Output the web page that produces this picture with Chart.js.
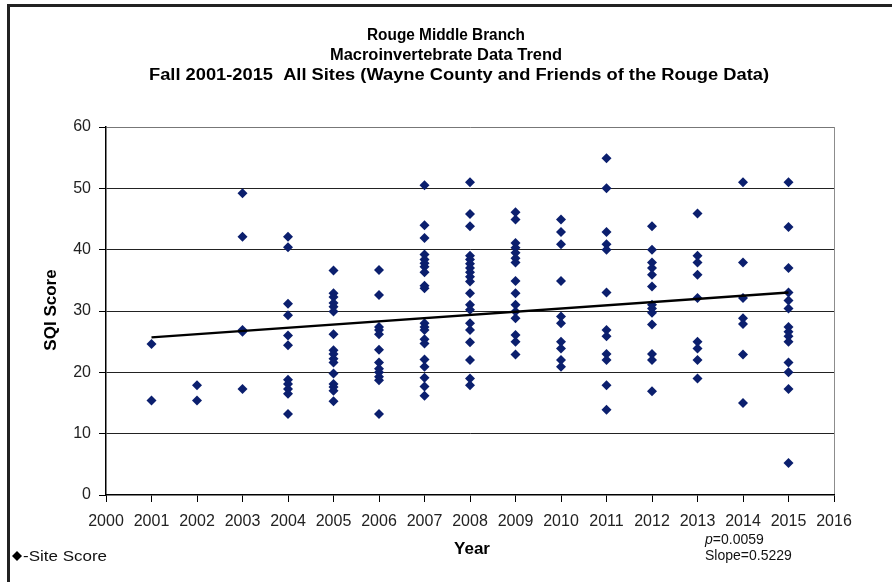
<!DOCTYPE html>
<html>
<head>
<meta charset="utf-8">
<script src="https://cdn.jsdelivr.net/npm/chart.js@4/dist/chart.umd.min.js"></script>
<style>
  html, body { margin: 0; padding: 0; background: #fff; }
  #wrap { width: 892px; height: 582px; position: relative; }
</style>
</head>
<body>
<div id="wrap"><canvas id="chart" width="892" height="582"></canvas></div>
<script>
// years sampled and the SQI scores read for every site that year
const years = [2001, 2002, 2003, 2004, 2005, 2006, 2007, 2008, 2009, 2010, 2011, 2012, 2013, 2014, 2015];
const siteScores = [
  [24.6, 15.4],
  [17.9, 15.4],
  [49.2, 42.1, 26.9, 26.6, 17.3],
  [42.1, 40.4, 31.2, 29.3, 26.0, 24.4, 18.8, 18.1, 17.3, 16.5, 13.2],
  [36.6, 32.9, 32.3, 31.3, 30.7, 29.9, 26.2, 23.6, 23.0, 22.2, 21.6, 19.8, 18.1, 17.6, 17.0, 15.3],
  [36.7, 32.6, 27.4, 26.9, 26.2, 23.7, 21.6, 20.6, 20.0, 19.3, 18.7, 13.2],
  [50.5, 44.0, 41.9, 39.2, 38.4, 37.8, 37.2, 36.3, 34.1, 33.7, 28.0, 27.4, 26.9, 25.4, 24.7, 22.1, 20.9, 19.1, 17.7, 16.2],
  [51.0, 45.8, 43.8, 39.0, 38.4, 37.7, 37.0, 36.3, 35.6, 34.8, 32.9, 31.0, 30.2, 28.0, 26.9, 24.9, 22.0, 19.0, 17.9],
  [46.1, 44.9, 41.1, 40.3, 39.5, 38.6, 37.9, 34.9, 32.9, 31.0, 29.9, 28.8, 26.1, 25.0, 22.9],
  [44.9, 42.9, 40.9, 34.9, 29.1, 28.0, 25.0, 23.9, 22.0, 20.9],
  [54.9, 50.0, 42.9, 40.9, 40.0, 33.0, 26.9, 25.9, 23.0, 22.0, 17.9, 13.9],
  [43.8, 40.0, 37.9, 37.0, 35.9, 34.0, 31.0, 30.4, 29.7, 27.8, 23.0, 22.0, 16.9],
  [45.9, 39.0, 37.9, 35.9, 32.1, 25.0, 23.9, 22.0, 19.0],
  [51.0, 37.9, 32.1, 28.8, 27.9, 22.9, 15.0],
  [51.0, 43.7, 37.0, 33.0, 31.7, 30.4, 27.4, 26.6, 25.9, 25.0, 21.6, 20.0, 17.3, 5.2]
];
// linear trend end points
const trendYears = [2001, 2015];
const trendScores = [25.7, 33.0];

const titleLines = [
  'Rouge Middle Branch',
  'Macroinvertebrate Data Trend',
  'Fall 2001-2015  All Sites (Wayne County and Friends of the Rouge Data)'
];

const points = [];
years.forEach((yr, i) => siteScores[i].forEach(s => points.push({x: yr, y: s})));
const trend = trendYears.map((yr, i) => ({x: yr, y: trendScores[i]}));

const markerColor = '#0b1f6e';
const FONT = '"Liberation Sans", Arial, sans-serif';

// draw text from left edge x, squeezed/stretched to the given width
function fitText(ctx, txt, x, y, w) {
  const m = ctx.measureText(txt).width;
  ctx.save();
  ctx.translate(x, y);
  ctx.scale(w / m, 1);
  ctx.textAlign = 'left';
  ctx.fillText(txt, 0, 0);
  ctx.restore();
}

const decor = {
  id: 'decor',
  afterDraw(chart) {
    const ctx = chart.ctx;
    ctx.save();
    // outer frame
    ctx.strokeStyle = '#222';
    ctx.lineWidth = 3;
    ctx.beginPath();
    ctx.moveTo(8.5, 590);
    ctx.lineTo(8.5, 5.5);
    ctx.lineTo(900, 5.5);
    ctx.stroke();

    ctx.fillStyle = '#000';
    ctx.textBaseline = 'middle';
    ctx.font = 'bold 16px ' + FONT;
    fitText(ctx, titleLines[0], 367, 36, 158);
    fitText(ctx, titleLines[1], 330, 56, 232);
    fitText(ctx, titleLines[2], 149, 76, 620);

    ctx.textAlign = 'center';
    ctx.font = 'bold 17px ' + FONT;
    ctx.fillText('Year', 472, 549);
    ctx.save();
    ctx.translate(51, 310);
    ctx.rotate(-Math.PI / 2);
    ctx.fillText('SQI Score', 0, 0);
    ctx.restore();

    // legend
    ctx.beginPath();
    ctx.moveTo(17, 551); ctx.lineTo(22, 556); ctx.lineTo(17, 561); ctx.lineTo(12, 556);
    ctx.closePath();
    ctx.fill();
    ctx.font = '14px ' + FONT;
    ctx.fillStyle = '#111';
    fitText(ctx, '-Site Score', 23, 557, 84);

    // stats
    ctx.textAlign = 'left';
    ctx.font = 'italic 14px ' + FONT;
    ctx.fillText('p', 705, 540);
    const pw = ctx.measureText('p').width;
    ctx.font = '14px ' + FONT;
    ctx.fillText('=0.0059', 705 + pw, 540);
    ctx.fillText('Slope=0.5229', 705, 556);
    ctx.restore();
  }
};

new Chart(document.getElementById('chart'), {
  type: 'scatter',
  data: {
    datasets: [
      {
        label: 'Site Score',
        data: points,
        pointStyle: 'rectRot',
        pointRadius: 5,
        pointHoverRadius: 5,
        backgroundColor: markerColor,
        borderColor: markerColor,
        borderWidth: 0,
        order: 2
      },
      {
        label: 'Trend',
        type: 'line',
        data: trend,
        borderColor: '#000',
        borderWidth: 2.5,
        pointRadius: 0,
        fill: false,
        order: 1
      }
    ]
  },
  options: {
    responsive: false,
    animation: false,
    events: [],
    layout: { padding: { left: 0, right: 58, top: 127, bottom: 0 } },
    plugins: { legend: { display: false }, title: { display: false }, tooltip: { enabled: false } },
    scales: {
      x: {
        type: 'linear',
        min: 2000,
        max: 2016,
        afterFit(s) { s.height = 87; },
        ticks: {
          stepSize: 1,
          color: '#222',
          padding: 10,
          font: { family: FONT, size: 16 },
          maxRotation: 0,
          autoSkip: false,
          callback: v => String(v)
        },
        grid: {
          color: c => (c.tick && c.tick.value === 2016 ? '#8c8c8c' : 'rgba(0,0,0,0)'),
          tickColor: '#000',
          tickLength: 7,
          lineWidth: 1
        },
        border: { color: '#000', width: 1.5 }
      },
      y: {
        min: 0,
        max: 60,
        afterFit(s) { s.width = 106; },
        ticks: {
          stepSize: 10,
          color: '#222',
          padding: 8,
          font: { family: FONT, size: 16 }
        },
        grid: {
          color: c => (c.tick && c.tick.value === 0 ? 'rgba(0,0,0,0)' : (c.tick && c.tick.value === 60 ? '#777' : '#222')),
          tickColor: '#000',
          tickLength: 7,
          lineWidth: 1
        },
        border: { color: '#000', width: 1.5 }
      }
    }
  },
  plugins: [decor]
});
</script>
</body>
</html>
